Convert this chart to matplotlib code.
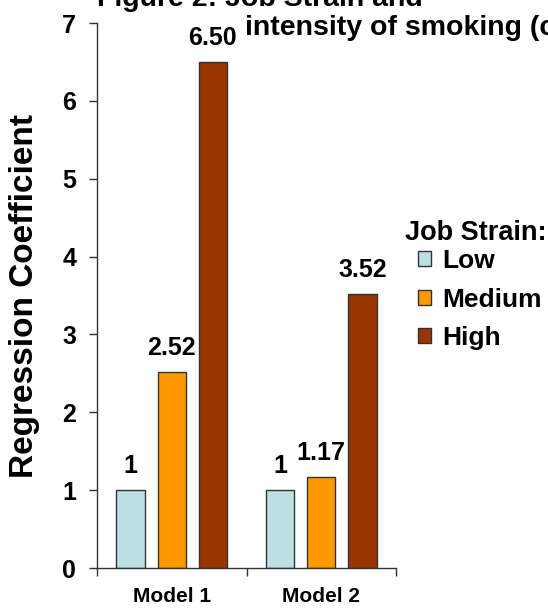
import numpy as np
import matplotlib
matplotlib.use("Agg")
from matplotlib import pyplot as plt

# data
models = ["Model 1", "Model 2"]
strain_levels = ["Low", "Medium", "High"]
low_vals = [1.0, 1.0]
medium_vals = [2.52, 1.17]
high_vals = [6.50, 3.52]
low_text = ["1", "1"]
medium_text = ["2.52", "1.17"]
high_text = ["6.50", "3.52"]
yticks = [0, 1, 2, 3, 4, 5, 6, 7]

colors = ["#BCE0E3", "#FF9900", "#993300"]
edge = "#333333"

plt.rcParams['font.family'] = ['Liberation Sans', 'DejaVu Sans']
plt.rcParams['font.weight'] = 'bold'

fig = plt.figure(figsize=(5.48, 6.11), dpi=100)
ax = fig.add_axes([97/548, 1-568/611, 299/548, 545/611])

x = np.arange(len(models)) + 0.5
w = 0.19
step = 0.275
series = [low_vals, medium_vals, high_vals]
texts = [low_text, medium_text, high_text]
for i in range(3):
	b = ax.bar(x + (i-1)*step, series[i], width=w, color=colors[i],
		edgecolor=edge, linewidth=1, label=strain_levels[i], zorder=2)
	for rect, t in zip(b, texts[i]):
		ax.annotate(t, (rect.get_x()+rect.get_width()/2, rect.get_height()),
			xytext=(0, 12), textcoords="offset points", ha="center",
			va="baseline", fontsize=18, fontweight="bold")

ax.set_xlim(0, 2)
ax.set_ylim(0, 7)
ax.set_yticks(yticks)
ax.set_yticklabels([str(v) for v in yticks], fontsize=18, fontweight="bold")
ax.set_xticks([0, 1, 2])
ax.set_xticklabels([])
ax.set_xticks(x, minor=True)
ax.set_xticklabels(models, minor=True, fontsize=15, fontweight="bold")
ax.tick_params(axis="x", which="major", length=6, width=1, color=edge, direction="out")
ax.tick_params(axis="x", which="minor", length=0, pad=14)
ax.tick_params(axis="y", length=6, width=1, color=edge, direction="out", pad=9)
for s in ["top", "right"]:
	ax.spines[s].set_visible(False)
for s in ["left", "bottom"]:
	ax.spines[s].set_color(edge)
	ax.spines[s].set_linewidth(1)

ax.set_ylabel("Regression Coefficient", fontsize=24, fontweight="bold")
ax.yaxis.set_label_coords(-0.19, 0.5)

# title, partly cut off at top and right as in the original
fig.text(97/548, 1-6/611, "Figure 2: Job Strain and", fontsize=20.5,
	fontweight="bold", va="baseline", ha="left")
fig.text(245/548, 1-35/611, "intensity of smoking (cigarettes per day)",
	fontsize=20.5, fontweight="bold", va="baseline", ha="left")

fig.text(405/548, 1-240/611, "Job Strain:", fontsize=19.5, fontweight="bold",
	va="baseline", ha="left")
leg = ax.legend(loc="upper left", bbox_to_anchor=(418/548, 1-249/611),
	bbox_transform=fig.transFigure, frameon=False, fontsize=19,
	handlelength=0.5, handleheight=0.5, handletextpad=0.4,
	labelspacing=0.55, borderpad=0, borderaxespad=0)
for t in leg.get_texts():
	t.set_fontweight("bold")

fig.savefig("out.png", dpi=100)
